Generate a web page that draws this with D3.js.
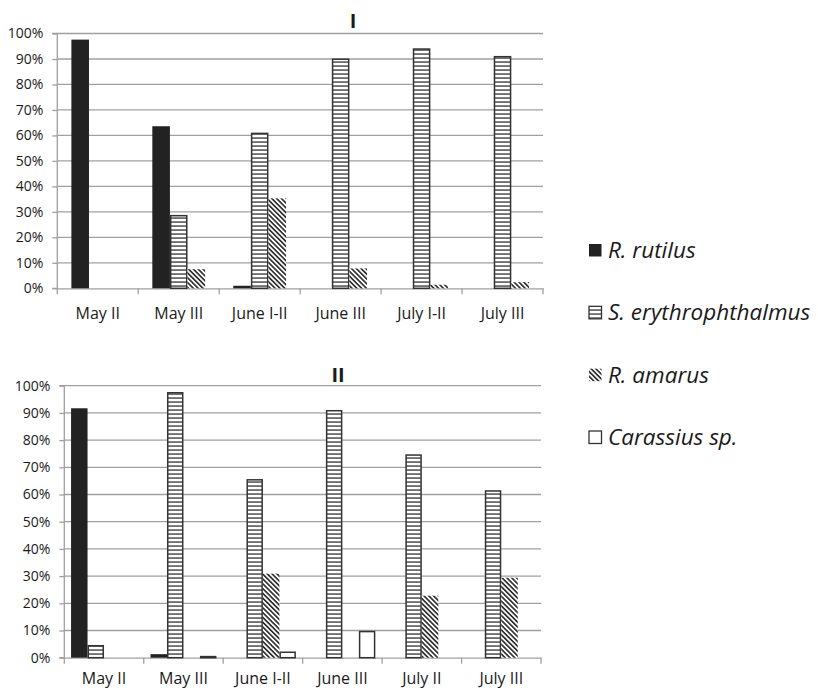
<!DOCTYPE html>
<html><head><meta charset="utf-8">
<script src="https://cdn.jsdelivr.net/npm/d3@7"></script>
<style>body{margin:0;background:#fff}svg{display:block}text{font-family:"Open Sans",sans-serif;fill:#1a1a1a}</style>
</head><body><svg id="c" width="818" height="691"></svg>
<script>
const seriesNames = ["R. rutilus","S. erythrophthalmus","R. amarus","Carassius sp."];
const yTicks = [0,10,20,30,40,50,60,70,80,90,100];
// Chart I
const catsI = ["May II","May III","June I-II","June III","July I-II","July III"];
const rutilusI = [97.6,63.6,1.0,0,0,0];
const eryI = [0,28.5,60.8,89.9,93.9,90.9];
const amarusI = [0,7.5,35.3,7.8,1.4,2.4];
// Chart II
const catsII = ["May II","May III","June I-II","June III","July II","July III"];
const rutilusII = [91.7,1.3,0,0,0,0];
const eryII = [4.4,97.4,65.4,90.8,74.5,61.3];
const amarusII = [0,0,30.9,0,22.8,29.4];
const carassiusII = [0,0.4,2.0,9.6,0,0];

const svg = d3.select("#c");
const defs = svg.append("defs");
const hp = defs.append("pattern").attr("id","hs").attr("patternUnits","userSpaceOnUse").attr("width",6).attr("height",4);
hp.append("rect").attr("width",6).attr("height",4).attr("fill","#fff");
hp.append("rect").attr("y",1.4).attr("width",6).attr("height",1.3).attr("fill","#333");
const dp = defs.append("pattern").attr("id","dg").attr("patternUnits","userSpaceOnUse").attr("width",3.4).attr("height",3.4).attr("patternTransform","rotate(-45)");
dp.append("rect").attr("width",3.4).attr("height",3.4).attr("fill","#fff");
dp.append("rect").attr("width",1.7).attr("height",3.4).attr("fill","#333");

const styles = [
  {fill:"#222", stroke:"none"},
  {fill:"url(#hs)", stroke:"#333"},
  {fill:"url(#dg)", stroke:"none"},
  {fill:"#fff", stroke:"#333"}
];

function chart(cfg){
  const g = svg.append("g");
  const x = d3.scaleBand().domain(cfg.cats).range([cfg.x0,cfg.x1]);
  const y = d3.scaleLinear().domain([0,100]).range([cfg.y0,cfg.y1]);
  const xs = d3.scaleBand().domain(d3.range(cfg.series.length)).range([0,x.bandwidth()]).paddingOuter(cfg.pad).paddingInner(0);
  // gridlines
  g.append("g").selectAll("line").data(yTicks.slice(1)).join("line")
    .attr("x1",cfg.x0).attr("x2",cfg.x1).attr("y1",d=>y(d)).attr("y2",d=>y(d))
    .attr("stroke","#a0a0a0").attr("stroke-width",1.3);
  // y axis
  const ya = g.append("g").attr("transform",`translate(${cfg.x0},0)`)
    .call(d3.axisLeft(y).tickValues(yTicks).tickFormat(d=>d+"%").tickSize(5).tickPadding(cfg.tp));
  ya.select(".domain").attr("stroke","#a0a0a0").attr("stroke-width",1.3).attr("d",`M-5,${cfg.y1}H0V${cfg.y0}H-5`);
  ya.selectAll(".tick line").attr("stroke","#a0a0a0").attr("stroke-width",1.3);
  ya.selectAll(".tick text").attr("font-size",14).attr("font-family","Open Sans").attr("fill","#1a1a1a");
  // x axis
  const xa = g.append("g").attr("transform",`translate(0,${cfg.y0})`)
    .call(d3.axisBottom(x).tickSize(0).tickPadding(cfg.xpad));
  xa.select(".domain").attr("stroke","#a0a0a0").attr("stroke-width",1.3);
  xa.selectAll(".tick text").attr("font-size",16).attr("font-family","Open Sans").attr("fill","#1a1a1a");
  const edges = cfg.cats.map(c=>x(c)).concat([cfg.x1]);
  g.append("g").selectAll("line").data(edges).join("line")
    .attr("x1",d=>d).attr("x2",d=>d).attr("y1",cfg.y0).attr("y2",cfg.y0+6)
    .attr("stroke","#a0a0a0").attr("stroke-width",1.3);
  // bars
  cfg.series.forEach((vals,si)=>{
    const st = styles[cfg.styleIdx[si]];
    g.append("g").selectAll("rect").data(vals.map((v,i)=>({c:cfg.cats[i],v}))).join("rect")
      .filter(d=>d.v>0)
      .attr("x",d=>x(d.c)+xs(si)+(st.stroke==="none"?0:0.75))
      .attr("width",xs.bandwidth()-(st.stroke==="none"?0:1.5))
      .attr("y",d=>y(d.v))
      .attr("height",d=>cfg.y0-y(d.v))
      .attr("fill",st.fill).attr("stroke",st.stroke).attr("stroke-width",1.5);
  });
  g.append("text").attr("x",cfg.tx).attr("y",cfg.ty).attr("text-anchor","middle")
    .attr("font-size",20).attr("font-weight","bold").text(cfg.title);
}

chart({cats:catsI, series:[rutilusI,eryI,amarusI], styleIdx:[0,1,2], x0:57.3, x1:543, y0:288.3, y1:33.5, pad:0.8, tp:9, xpad:19, title:"I", tx:353, ty:28});
chart({cats:catsII, series:[rutilusII,eryII,amarusII,carassiusII], styleIdx:[0,1,2,3], x0:64.3, x1:541, y0:657.7, y1:385.7, pad:0.41, tp:9, xpad:15, title:"II", tx:338, ty:382});

// legend
const lg = svg.append("g");
const ly = d3.scalePoint().domain(seriesNames).range([250,437]);
seriesNames.forEach((n,i)=>{
  const st = styles[i];
  const yy = ly(n);
  lg.append("rect").attr("x",589).attr("y",yy-6).attr("width",12.5).attr("height",12.5)
    .attr("fill",st.fill).attr("stroke",st.stroke==="none"?"none":"#333").attr("stroke-width",1.3);
  lg.append("text").attr("x",608).attr("y",yy+8).attr("font-size",22.5).attr("font-style","italic").text(n);
});
</script></body></html>
